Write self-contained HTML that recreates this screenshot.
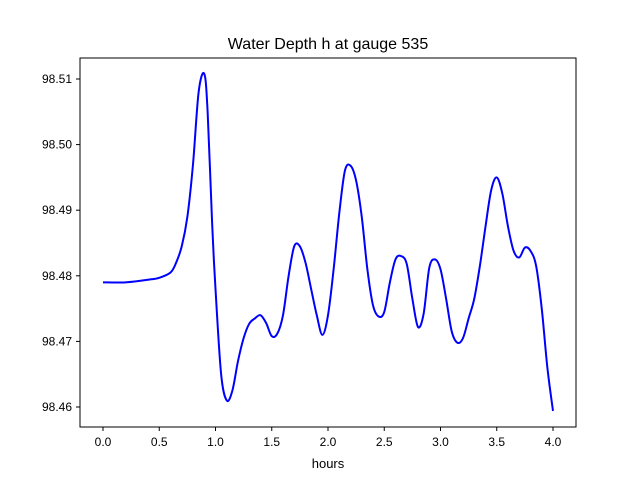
<!DOCTYPE html>
<html><head><meta charset="utf-8"><style>
body{margin:0;background:#fff;}
svg text{font-family:"Liberation Sans","DejaVu Sans",sans-serif;}
</style></head><body>
<svg id="chart" width="640" height="480">
<rect width="640" height="480" fill="#fff"/>
<text x="328" y="49" font-size="16" text-anchor="middle">Water Depth h at gauge 535</text>
<g id="ticks"></g>
<path id="line" fill="none" stroke="#0000ff" stroke-width="2" stroke-linejoin="round"/>
<rect x="80" y="58" width="496" height="369" fill="none" stroke="#000" stroke-width="1"/>
<text x="328" y="468" font-size="13" text-anchor="middle">hours</text>
</svg>
<script>
const hours=[0,0.2,0.4,0.5,0.6,0.65,0.7,0.75,0.8,0.85,0.9,0.93,0.97,1.0,1.05,1.1,1.15,1.2,1.25,1.3,1.35,1.4,1.45,1.5,1.55,1.6,1.65,1.7,1.75,1.8,1.85,1.9,1.95,2.0,2.05,2.1,2.15,2.2,2.25,2.3,2.35,2.4,2.45,2.5,2.55,2.6,2.65,2.7,2.75,2.8,2.85,2.9,2.95,3.0,3.05,3.1,3.15,3.2,3.25,3.3,3.35,3.4,3.45,3.5,3.55,3.6,3.65,3.7,3.75,3.8,3.85,3.9,3.95,4.0];
const depth=[98.479,98.479,98.4794,98.4797,98.4805,98.482,98.4845,98.489,98.497,98.508,98.5108,98.505,98.488,98.478,98.465,98.461,98.4625,98.467,98.4705,98.4727,98.4735,98.474,98.4728,98.4708,98.4712,98.474,98.480,98.4845,98.4845,98.482,98.478,98.474,98.471,98.474,98.481,98.4895,98.496,98.4968,98.4945,98.489,98.481,98.4755,98.4738,98.4745,98.479,98.4825,98.483,98.4818,98.4765,98.4722,98.4742,98.4812,98.4825,98.481,98.4765,98.4715,98.4698,98.4705,98.4735,98.4765,98.4815,98.4875,98.493,98.495,98.4925,98.4875,98.4838,98.4828,98.4843,98.4838,98.4815,98.475,98.466,98.4594];
const xTicks=[0,0.5,1,1.5,2,2.5,3,3.5,4];
const xTickLabels=["0.0","0.5","1.0","1.5","2.0","2.5","3.0","3.5","4.0"];
const yTicks=[98.46,98.47,98.48,98.49,98.50,98.51];
const yTickLabels=["98.46","98.47","98.48","98.49","98.50","98.51"];
const X=v=>103+v*112.5;
const Y=v=>407-(v-98.46)*6560;
const NS="http://www.w3.org/2000/svg";
const g=document.getElementById('ticks');
function mk(tag,attrs){const e=document.createElementNS(NS,tag);for(const k in attrs)e.setAttribute(k,attrs[k]);return e;}
xTicks.forEach((t,i)=>{
  const l=mk('line',{x1:X(t),x2:X(t),y1:427,y2:431,stroke:'#000'});
  
  
  g.appendChild(l);
  const tx=mk('text',{x:X(t),y:446,'font-size':12,'text-anchor':'middle'});
  tx.textContent=xTickLabels[i];
  
  
  g.appendChild(tx);
});
yTicks.forEach((t,i)=>{
  const l=mk('line',{x1:76,x2:80,y1:Y(t),y2:Y(t),stroke:'#000'});
  
  
  g.appendChild(l);
  const tx=mk('text',{x:72,y:Y(t)+4,'font-size':12,'text-anchor':'end'});
  tx.textContent=yTickLabels[i];
  
  
  g.appendChild(tx);
});
// Catmull-Rom smoothing
const P=hours.map((h,i)=>[X(h),Y(depth[i])]);
let d='M'+P[0][0]+','+P[0][1];
for(let i=0;i<P.length-1;i++){
  const p0=P[Math.max(i-1,0)],p1=P[i],p2=P[i+1],p3=P[Math.min(i+2,P.length-1)];
  const c1=[p1[0]+(p2[0]-p0[0])/6,p1[1]+(p2[1]-p0[1])/6];
  const c2=[p2[0]-(p3[0]-p1[0])/6,p2[1]-(p3[1]-p1[1])/6];
  d+=` C${c1[0]},${c1[1]} ${c2[0]},${c2[1]} ${p2[0]},${p2[1]}`;
}
document.getElementById('line').setAttribute('d',d);
</script>
</body></html>
